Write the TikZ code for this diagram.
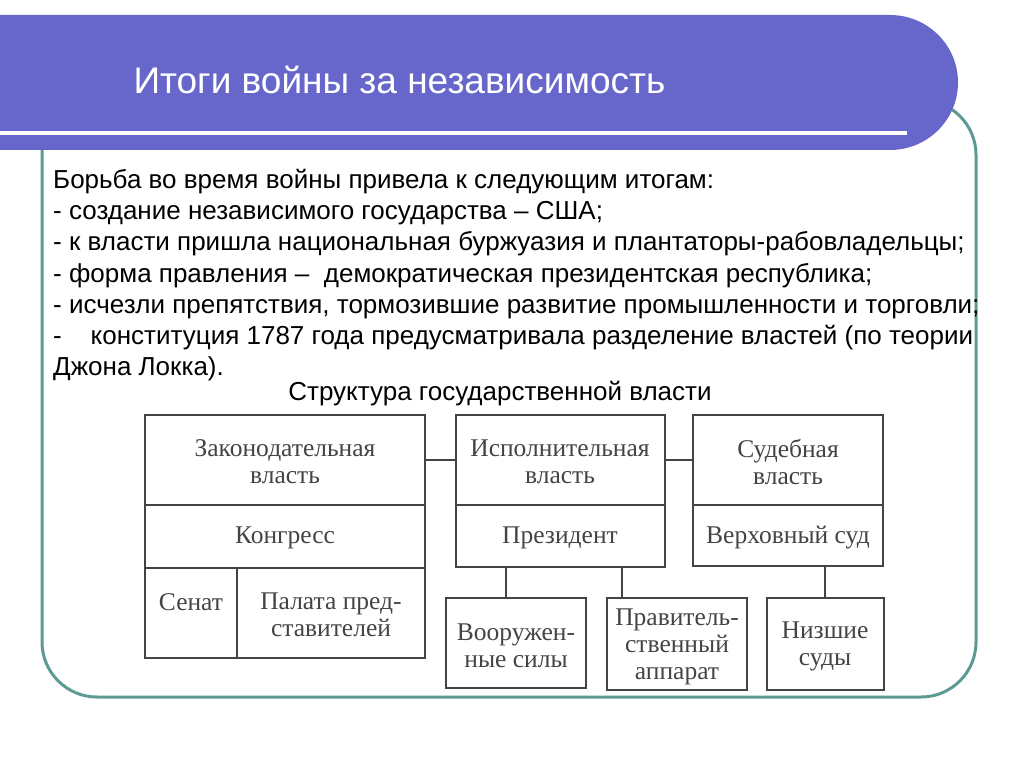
\documentclass[tikz,border=0pt]{standalone}
\usepackage{fontspec}
\setmainfont{Liberation Sans}
\newfontfamily\boxfont{Liberation Serif}
\definecolor{ban}{HTML}{6767CB}
\definecolor{teal}{HTML}{5E9A94}
\definecolor{gr}{HTML}{444444}
\begin{document}
\begin{tikzpicture}[x=1pt,y=-1pt,
 bx/.style={draw=gr,line width=1.6pt},
 bt/.style={font=\boxfont\fontsize{25.5}{27}\selectfont,text=gr,align=center,inner sep=0pt},
 ln/.style={draw=gr,line width=1.4pt},
 tx/.style={anchor=base west,inner sep=0pt,font=\fontsize{26}{30}\selectfont}]
\useasboundingbox (0,0) rectangle (1024,767);
\fill[white] (0,0) rectangle (1024,767);
% frame
\draw[teal,line width=3pt,rounded corners=55pt] (42,150) -- (42,697) -- (976,697) -- (976,100) -- (900,100);
\fill[ban] (0,15) -- (890,15) arc[start angle=90,end angle=-90,x radius=68pt,y radius=67.5pt] -- (0,150) -- cycle;
\draw[white,line width=4pt] (0,133) -- (907,133);
\node[anchor=west,text=white,font=\fontsize{37}{42}\selectfont] (title) at (130,80) {Итоги войны за независимость};
% text
\node[tx] (l1) at (53,189) {Борьба во время войны привела к следующим итогам:};
\node[tx] (l2) at (53,220) {- создание независимого государства – США;};
\node[tx] (l3) at (53,251) {- к власти пришла национальная буржуазия и плантаторы-рабовладельцы;};
\node[tx] (l4) at (53,282) {- форма правления –\ \ демократическая президентская республика;};
\node[tx] (l5) at (53,313) {- исчезли препятствия, тормозившие развитие промышленности и торговли;};
\node[tx] (l6) at (53,344) {-\ \ \ \ конституция 1787 года предусматривала разделение властей (по теории};
\node[tx] (l7) at (53,375) {Джона Локка).};
\node[anchor=base,inner sep=0pt,font=\fontsize{26}{30}\selectfont] (st) at (500,400) {Структура государственной власти};
% boxes
\draw[bx] (145,415) rectangle (425,658);
\draw[bx] (145,505) -- (425,505) (145,568) -- (425,568) (237,568) -- (237,658);
\draw[bx] (456,415) rectangle (665,567) (456,505) -- (665,505);
\draw[bx] (693,415) rectangle (883,566) (693,505) -- (883,505);
\draw[bx] (446,598) rectangle (586,688);
\draw[bx] (607,598) rectangle (747,690);
\draw[bx] (767,598) rectangle (884,690);
\node[bt] (leg) at (285,462) {Законодательная\\власть};
\node[bt] (kon) at (285,538) {Конгресс};
\node[bt] (sen) at (191,602) {Сенат};
\node[bt] (pal) at (331,615) {Палата пред-\\ставителей};
\node[bt] (exe) at (560,462) {Исполнительная\\власть};
\node[bt] (pre) at (560,538) {Президент};
\node[bt] (sud) at (788,462) {Судебная\\власть};
\node[bt] (ver) at (788,538) {Верховный суд};
\node[bt] (voo) at (516,646) {Вооружен-\\ные силы};
\node[bt] (pra) at (677,647) {Правитель-\\ственный\\аппарат};
\node[bt] (niz) at (825,646) {Низшие\\суды};
\draw[ln] (425,460) -- (456,460) (665,460) -- (693,460);
\draw[ln] (506,567) -- (506,598) (622,567) -- (622,598) (825,566) -- (825,598);
\end{tikzpicture}
\end{document}
